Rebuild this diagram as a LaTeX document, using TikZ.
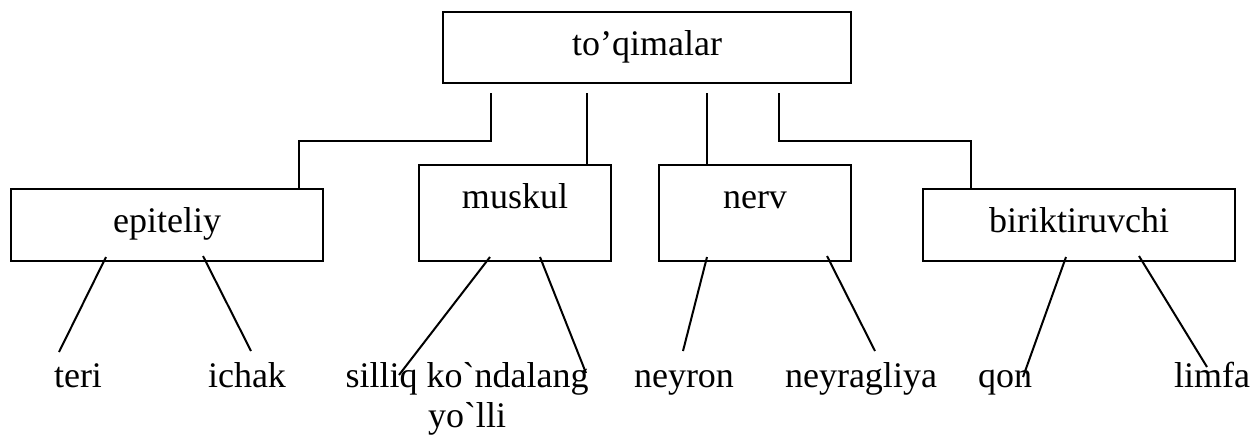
\documentclass[tikz,border=0pt]{standalone}
\usepackage{fontspec}
\setmainfont{Liberation Serif}[Ligatures=TeXOff]
\usetikzlibrary{calc, positioning}

\begin{document}
\begin{tikzpicture}[% styles used in image code
         x = 0.5pt, y = -0.5pt, % one unit = one pixel, y downwards
      font = \fontsize{18}{20}\selectfont,
 box/.style = {draw, line width=1pt,
               inner sep=0pt, outer sep=0pt,
               text height=21.5pt, anchor=north},
leaf/.style = {inner sep=0pt, anchor=base, align=center},
link/.style = {line width=1pt}
                    ]
	\useasboundingbox (0,0) rectangle (1254,436);

	% root
	\node (tis) [box, minimum width=204pt, text depth=14pt] at (647,12) {to’qimalar};

	% tissue kinds
	\node (epi) [box, minimum width=156pt, text depth=14.5pt] at (167,189)  {epiteliy};
	\node (mus) [box, minimum width=96pt,  text depth=26.5pt] at (515,165)  {muskul};
	\node (ner) [box, minimum width=96pt,  text depth=26.5pt] at (755,165)  {nerv};
	\node (bir) [box, minimum width=156pt, text depth=14.5pt] at (1079,189) {biriktiruvchi};

	% leaves (base of a two-line leaf is its last line)
	\node (ter) [leaf] at (78,387)   {teri};
	\node (ich) [leaf] at (247,387)  {ichak};
	\node (sil) [leaf] at (467,427)  {silliq ko`ndalang\\yo`lli};
	\node (ney) [leaf] at (684,387)  {neyron};
	\node (gli) [leaf] at (861,387)  {neyragliya};
	\node (qon) [leaf] at (1005,387) {qon};
	\node (lim) [leaf] at (1212,387) {limfa};

	% root to kinds
	\draw [link] ($(tis.south west)+(48,10)$)  -- ++(0,48) -| ($(epi.north)+(132,0)$);
	\draw [link] ($(tis.south west)+(144,10)$) -- ($(mus.north)+(72,0)$);
	\draw [link] ($(tis.south west)+(264,10)$) -- ($(ner.north)+(-48,0)$);
	\draw [link] ($(tis.south west)+(336,10)$) -- ++(0,48) -| ($(bir.north)+(-108,0)$);

	% kinds to leaves
	\draw [link] ($(epi.south)+(-61,-4)$) -- ($(ter.base)+(-19,-35)$);
	\draw [link] ($(epi.south)+(36,-5)$)  -- ($(ich.base)+(4,-36)$);
	\draw [link] ($(mus.south)+(-25,-4)$) -- ($(sil.base)+(-68,-52)$);
	\draw [link] ($(mus.south)+(25,-4)$)  -- ($(sil.base)+(119,-54)$);
	\draw [link] ($(ner.south)+(-48,-4)$) -- ($(ney.base)+(-1,-36)$);
	\draw [link] ($(ner.south)+(72,-5)$)  -- ($(gli.base)+(14,-36)$);
	\draw [link] ($(bir.south)+(-13,-4)$) -- ($(qon.base)+(18,-10)$);
	\draw [link] ($(bir.south)+(60,-5)$)  -- ($(lim.base)+(-5,-20)$);
\end{tikzpicture}
\end{document}
